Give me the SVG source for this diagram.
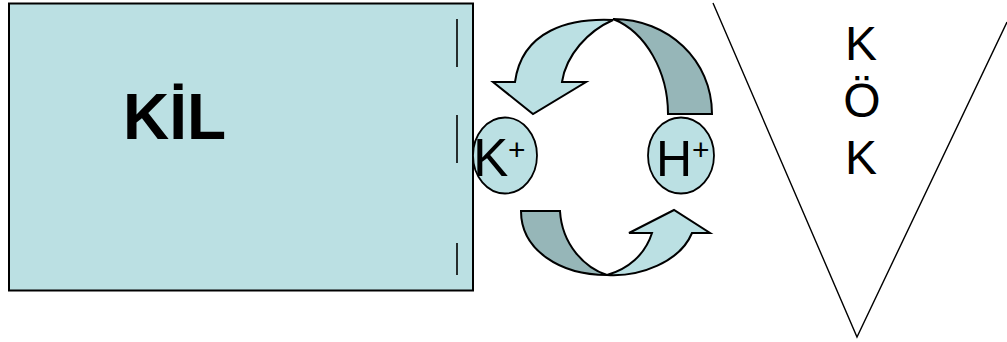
<svg xmlns="http://www.w3.org/2000/svg" width="1007" height="342" viewBox="0 0 1007 342">
  <style>
    .face { fill: #BBE0E3; stroke: #000; stroke-width: 2; stroke-linejoin: miter; }
    .back { fill: #96B6B8; stroke: #000; stroke-width: 2; stroke-linejoin: miter; }
    .ion { fill: #BBE0E3; stroke: #000; stroke-width: 1.8; }
    .label { font-family: "Liberation Sans", Arial, sans-serif; fill: #000; }
    .dash { stroke: #000; stroke-width: 1.6; }
    .line { stroke: #000; stroke-width: 1.4; fill: none; }
  </style>

  <!-- clay particle -->
  <g id="clay">
    <rect x="9" y="3.5" width="464" height="287" class="face" stroke-width="2.2"/>
    <line x1="457" y1="19" x2="457" y2="67" class="dash"/>
    <line x1="457" y1="115" x2="457" y2="163" class="dash"/>
    <line x1="457" y1="243" x2="457" y2="275" class="dash"/>
    <text x="123" y="139" class="label" font-size="64" font-weight="bold">KİL</text>
  </g>

  <!-- root -->
  <g id="root">
    <polyline points="713,3 857,337 1007,22" class="line"/>
    <text x="861" y="60" class="label" font-size="48" text-anchor="middle">K</text>
    <text x="862" y="117" class="label" font-size="48" text-anchor="middle">Ö</text>
    <text x="861" y="174" class="label" font-size="48" text-anchor="middle">K</text>
  </g>

  <!-- exchange arrows -->
  <g id="connectors">
    <!-- upper arrow: H+ side over the top down to K+ -->
    <path class="back" d="M613,19 C668,19 712,60 712,114 L668,114 C668,72 646,32 613,19 Z"/>
    <path class="face" d="M515,82 L493,82 L533,114 L586,82 L562,82 C566,55 588,31 613,20 C570,18 522,30 515,82 Z"/>
    <!-- lower arrow: K+ side under the bottom up to H+ -->
    <path class="back" d="M521,211 L560,211 C562,245 585,268 607,275 C560,275 521,250 521,211 Z"/>
    <path class="face" d="M692,233 L710,233 L674,210 L629,233 L652,233 C645,255 628,269 607,275 C640,277 680,262 692,233 Z"/>
  </g>

  <!-- potassium ion -->
  <g id="k-ion">
    <ellipse cx="505" cy="155.5" rx="32" ry="38" class="ion"/>
    <text class="label" font-size="53"><tspan x="473" y="176">K</tspan><tspan x="508" y="160" font-size="30">+</tspan></text>
  </g>

  <!-- hydrogen ion -->
  <g id="h-ion">
    <ellipse cx="681" cy="155.5" rx="33" ry="38" class="ion"/>
    <text class="label" font-size="50"><tspan x="656" y="176">H</tspan><tspan x="692" y="160" font-size="30">+</tspan></text>
  </g>
</svg>
